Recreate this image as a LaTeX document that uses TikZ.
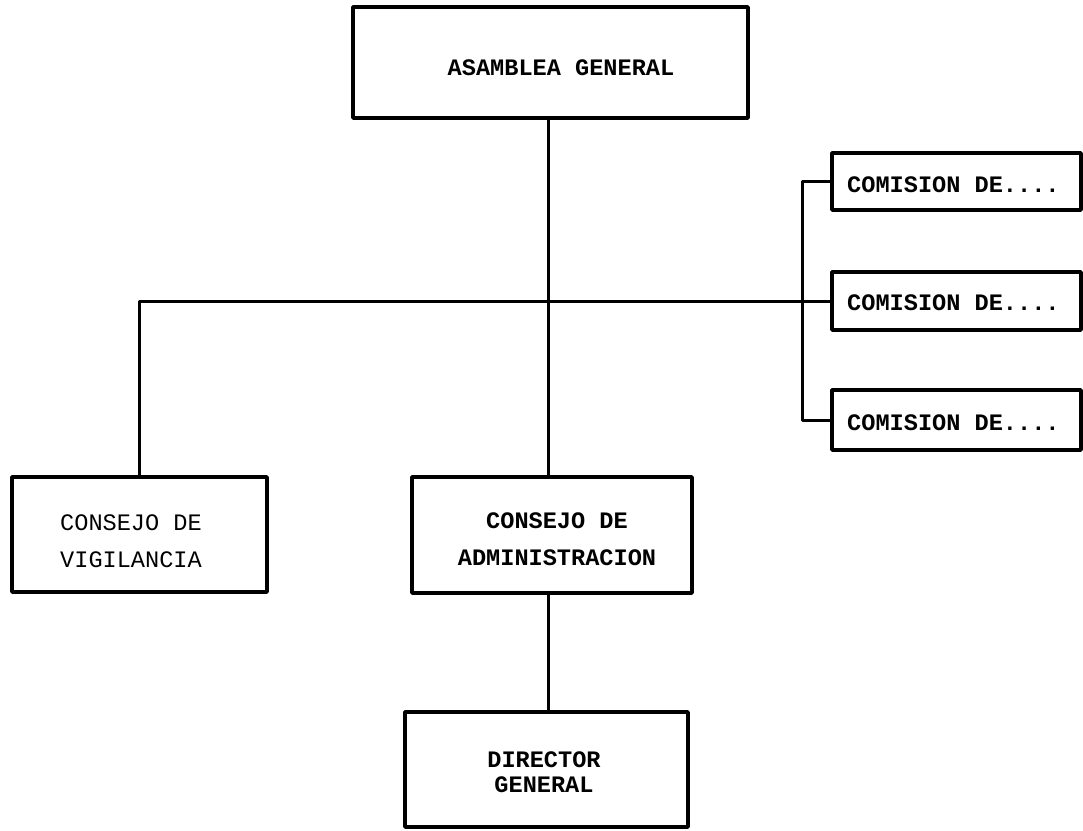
\documentclass[tikz,border=0pt]{standalone}
\usepackage{fontspec}
\setmonofont{Liberation Mono}
\begin{document}
\begin{tikzpicture}[x=1pt,y=-1pt,
  box/.style={draw, line width=3.6pt, inner sep=0pt, line join=round},
  wire/.style={line width=3pt, line join=round},
  lbl/.style={font=\ttfamily\fontsize{23.6}{37}\selectfont, inner sep=0pt, align=center},
  blbl/.style={font=\ttfamily\bfseries\fontsize{23.6}{37}\selectfont, inner sep=0pt, align=center}]
\useasboundingbox (0,0) rectangle (1083,830);
% boxes
\node[box, minimum width=395pt, minimum height=111pt] (asam) at (550.5,62.5) {};
\node[box, minimum width=255pt, minimum height=115pt] (vig) at (139.5,534.5) {};
\node[box, minimum width=280pt, minimum height=116pt] (admin) at (552,535) {};
\node[box, minimum width=283pt, minimum height=115pt] (dir) at (546.5,769.5) {};
\node[box, minimum width=249pt, minimum height=57pt] (com1) at (956.5,181.5) {};
\node[box, minimum width=249pt, minimum height=58pt] (com2) at (956.5,301) {};
\node[box, minimum width=249pt, minimum height=60pt] (com3) at (956.5,420) {};
% texts
\node[blbl] (tasam) at (561,68) {ASAMBLEA GENERAL};
\node[lbl] (tvig) at (131,541.5) {CONSEJO DE\\VIGILANCIA};
\node[blbl] (tadmin) at (557,539) {CONSEJO DE\\ADMINISTRACION};
\node[blbl, font=\ttfamily\bfseries\fontsize{23.6}{25}\selectfont] (tdir) at (544,772) {DIRECTOR\\GENERAL};
\node[blbl, anchor=west] (tcom1) at (847,185) {COMISION DE....};
\node[blbl, anchor=west] (tcom2) at (847,303) {COMISION DE....};
\node[blbl, anchor=west] (tcom3) at (847,423) {COMISION DE....};
% junction coordinates
\coordinate (trunk) at (548,301);
\coordinate (br) at (802,301);
% connectors
\draw[wire] (trunk |- asam.south) -- (trunk |- admin.north);
\draw[wire] (trunk |- admin.south) -- (trunk |- dir.north);
\draw[wire] (vig.north) |- (com2.west);
\draw[wire] (com1.west) -| (br) |- (com3.west);
\end{tikzpicture}
\end{document}
